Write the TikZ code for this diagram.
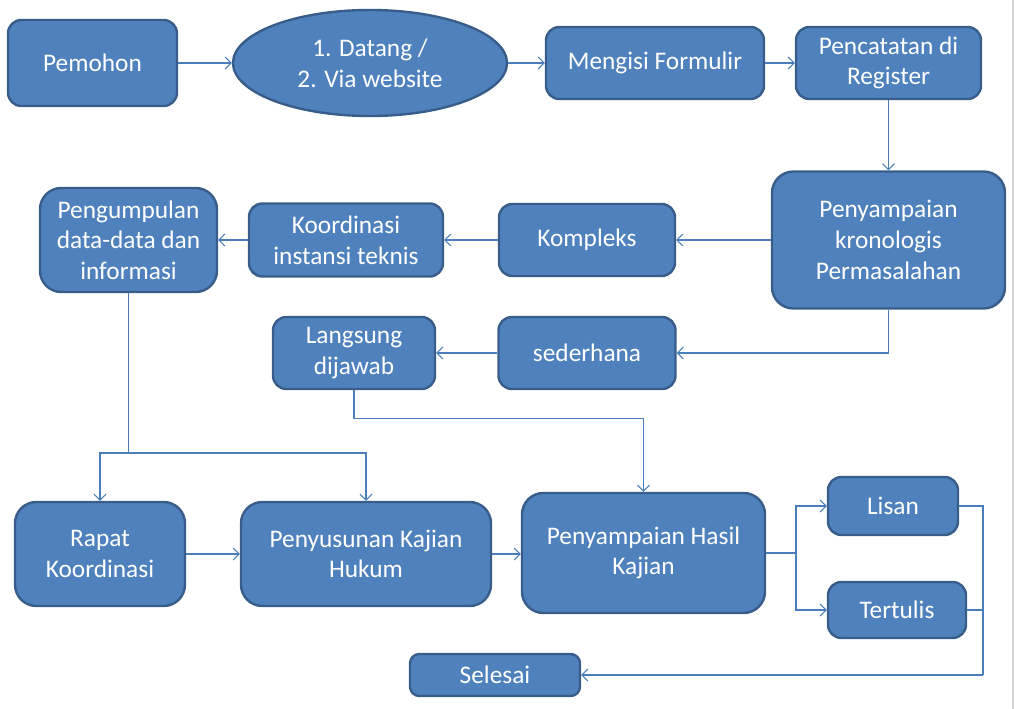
\documentclass[tikz,border=0pt]{standalone}
\usepackage{fontspec}
\setmainfont{Carlito}
\usetikzlibrary{arrows.meta,shapes.geometric}

\definecolor{boxfill}{HTML}{4F81BD}
\definecolor{boxline}{HTML}{385D8A}
\definecolor{linkblue}{HTML}{4A7EBB}

\tikzset{
    box/.style={draw=boxline, fill=boxfill, line width=1.8pt,
        rounded corners=10pt, text=white, align=center, inner sep=0pt,
        font=\fontsize{19}{23}\selectfont},
    bigbox/.style={box, rounded corners=16pt},
    link/.style={draw=linkblue, line width=0.8pt},
    arrow/.style={link, -{Straight Barb[length=4.5pt,width=9pt]}}
}

\begin{document}
\begin{tikzpicture}[x=0.75pt,y=-0.75pt]

    \useasboundingbox (0,0) rectangle (1014,709);
    \draw[gray!35, line width=1pt] (1013,0) -- (1013,709);

    % Top row
    \node[box, minimum width=126.75pt, minimum height=64.5pt] (pemohon) at (92.5,63) {Pemohon};
    \node[box, ellipse, minimum width=205.5pt, minimum height=79.5pt] (datang) at (370,63) {1. Datang /\\2. Via website};
    \node[box, minimum width=163.5pt, minimum height=54pt] (formulir) at (655,63) {Mengisi Formulir};
    \node[box, minimum width=138.75pt, minimum height=54pt] (register) at (888.5,63) {Pencatatan di\\Register};

    % Second row
    \node[bigbox, minimum width=174.75pt, minimum height=102.75pt] (kronologis) at (888.5,240) {Penyampaian\\kronologis\\Permasalahan};
    \node[box, minimum width=132pt, minimum height=54pt] (kompleks) at (587,240) {Kompleks};
    \node[box, minimum width=145.5pt, minimum height=54.75pt] (instansi) at (346,240) {Koordinasi\\instansi teknis};
    \node[bigbox, minimum width=132.75pt, minimum height=78pt] (pengumpulan) at (128.5,240) {Pengumpulan\\data-data dan\\informasi};

    % Third row
    \node[box, minimum width=132.75pt, minimum height=54pt] (sederhana) at (587,353) {sederhana};
    \node[box, minimum width=121.5pt, minimum height=54pt] (langsung) at (354,353) {Langsung\\dijawab};

    % Bottom row
    \node[bigbox, minimum width=127.5pt, minimum height=78pt] (rapat) at (100,554) {Rapat\\Koordinasi};
    \node[bigbox, minimum width=187.5pt, minimum height=78pt] (penyusunan) at (366,554) {Penyusunan Kajian\\Hukum};
    \node[bigbox, minimum width=182.25pt, minimum height=90pt] (hasil) at (643.5,553) {Penyampaian Hasil\\Kajian};
    \node[box, minimum width=97.5pt, minimum height=43.5pt] (lisan) at (893,506) {Lisan};
    \node[box, minimum width=103.5pt, minimum height=42pt] (tertulis) at (897,610) {Tertulis};
    \node[box, rounded corners=7pt, minimum width=127.5pt, minimum height=31.5pt] (selesai) at (495,675) {Selesai};

    % Connectors
    \draw[arrow] (pemohon) -- (datang);
    \draw[arrow] (datang) -- (formulir);
    \draw[arrow] (formulir) -- (register);
    \draw[arrow] (register) -- (kronologis);
    \draw[arrow] (kronologis) -- (kompleks);
    \draw[arrow] (kompleks) -- (instansi);
    \draw[arrow] (instansi) -- (pengumpulan);
    \draw[arrow] (kronologis.south) |- (sederhana.east);
    \draw[arrow] (sederhana) -- (langsung);
    \draw[arrow] (langsung.south) -- ++(0,28) -| (hasil.north);

    \coordinate (split) at (128.5,453);
    \draw[link] (pengumpulan.south) -- (split);
    \draw[arrow] (split) -| (rapat.north);
    \draw[arrow] (split) -| (penyusunan.north);

    \draw[arrow] (rapat) -- (penyusunan);
    \draw[arrow] (penyusunan.east) -- (hasil.west |- penyusunan.east);

    \coordinate (fork) at (796,553);
    \draw[link] (hasil.east) -- (fork);
    \draw[arrow] (fork) |- (lisan.west);
    \draw[arrow] (fork) |- (tertulis.west);

    \coordinate (join) at (983,675);
    \draw[link] (lisan.east) -| (join);
    \draw[link] (tertulis.east) -| (join);
    \draw[arrow] (join) -- (selesai.east);

\end{tikzpicture}
\end{document}
